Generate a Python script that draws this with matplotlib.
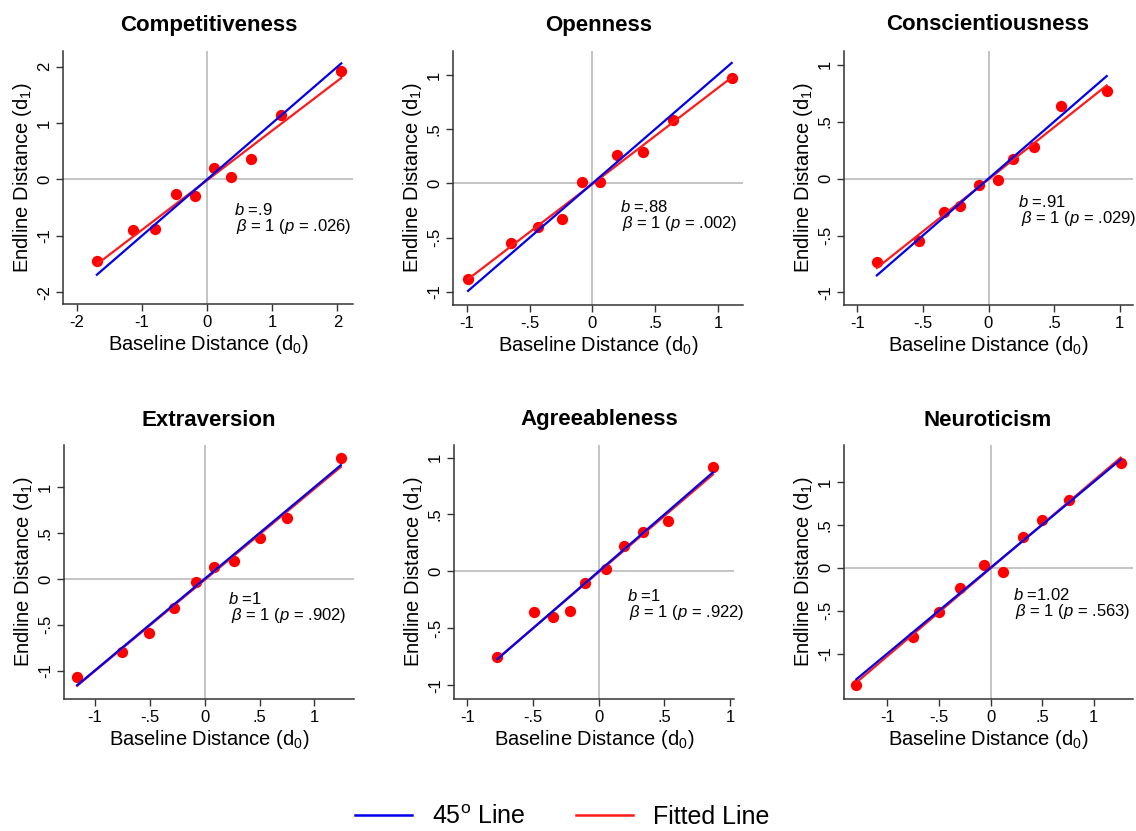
import numpy as np
import matplotlib.pyplot as plt
from matplotlib.lines import Line2D

plt.rcParams['font.family'] = ['Liberation Sans', 'DejaVu Sans']
plt.rcParams['mathtext.fontset'] = 'custom'
plt.rcParams['mathtext.rm'] = 'Liberation Sans'
plt.rcParams['mathtext.it'] = 'Liberation Sans:italic'

# datos (distancia base d0, distancia final d1)
titles = ['Competitiveness', 'Openness', 'Conscientiousness',
          'Extraversion', 'Agreeableness', 'Neuroticism']

comp_x = [-1.69, -1.14, -0.80, -0.47, -0.18, 0.10, 0.37, 0.68, 1.14, 2.06]
comp_y = [-1.44, -0.89, -0.88, -0.26, -0.30, 0.21, 0.05, 0.37, 1.14, 1.92]

open_x = [-0.99, -0.65, -0.43, -0.24, -0.08, 0.06, 0.20, 0.40, 0.64, 1.11]
open_y = [-0.88, -0.55, -0.40, -0.33, 0.01, 0.01, 0.26, 0.29, 0.58, 0.97]

consc_x = [-0.85, -0.53, -0.34, -0.22, -0.07, 0.07, 0.19, 0.35, 0.55, 0.90]
consc_y = [-0.73, -0.55, -0.29, -0.24, -0.06, -0.01, 0.17, 0.28, 0.64, 0.77]

extra_x = [-1.16, -0.75, -0.51, -0.28, -0.08, 0.09, 0.27, 0.50, 0.75, 1.24]
extra_y = [-1.07, -0.80, -0.59, -0.32, -0.03, 0.13, 0.20, 0.45, 0.66, 1.32]

agree_x = [-0.77, -0.49, -0.35, -0.22, -0.10, 0.06, 0.19, 0.34, 0.53, 0.87]
agree_y = [-0.75, -0.36, -0.40, -0.35, -0.10, 0.02, 0.22, 0.35, 0.44, 0.92]

neuro_x = [-1.30, -0.75, -0.50, -0.30, -0.06, 0.12, 0.31, 0.50, 0.76, 1.26]
neuro_y = [-1.37, -0.81, -0.52, -0.24, 0.03, -0.05, 0.36, 0.56, 0.79, 1.22]

b_vals = ['.9', '.88', '.91', '1', '1', '1.02']
p_vals = ['.026', '.002', '.029', '.902', '.922', '.563']

xs = [comp_x, open_x, consc_x, extra_x, agree_x, neuro_x]
ys = [comp_y, open_y, consc_y, extra_y, agree_y, neuro_y]

ticks_big = [-2, -1, 0, 1, 2]
ticks_small = [-1, -0.5, 0, 0.5, 1]

# posiciones en pixeles: izquierda, derecha, arriba, abajo
boxes = [(63, 353, 51, 304), (453, 743, 51, 305), (844, 1133, 51, 305),
         (64, 354, 445, 699), (454, 734, 445, 699), (844, 1133, 445, 699)]
xlims = [(-2.21, 2.24), (-1.11, 1.20), (-1.10, 1.10),
         (-1.28, 1.36), (-1.10, 1.03), (-1.42, 1.38)]
ylims = [(-2.21, 2.28), (-1.12, 1.22), (-1.11, 1.12),
         (-1.31, 1.46), (-1.12, 1.11), (-1.53, 1.43)]
txt_pos = [(0.59, 0.372), (0.575, 0.384), (0.603, 0.406),
           (0.567, 0.393), (0.617, 0.404), (0.585, 0.41)]
title_x = [209, 599, 988, 209, 599, 988]
title_y = [25, 25, 25, 420, 420, 420]

W, H = 1136, 831


def fmt(v):
    if float(v).is_integer():
        return str(int(v))
    return ('%g' % v).replace('0.', '.')


fig = plt.figure(figsize=(W / 100, H / 100), dpi=100)

for i in range(6):
    l, r, t, b = boxes[i]
    ax = fig.add_axes([l / W, 1 - b / H, (r - l) / W, (b - t) / H])
    x = np.array(xs[i])
    y = np.array(ys[i])

    ax.axhline(0, color='#b4b4b4', lw=1.1, zorder=0)
    ax.axvline(0, color='#b4b4b4', lw=1.1, zorder=0)

    ax.scatter(x, y, s=66, color='#ff0000', zorder=2, linewidths=0)
    slope, icpt = np.polyfit(x, y, 1)
    xx = np.array([x.min(), x.max()])
    ax.plot(xx, icpt + slope * xx, color='#ff1a1a', lw=1.6, zorder=3)
    ax.plot(xx, xx, color='#0000ee', lw=1.6, zorder=4)

    ax.set_xlim(xlims[i])
    ax.set_ylim(ylims[i])
    tk = ticks_big if i == 0 else ticks_small
    ax.set_xticks(tk)
    ax.set_xticklabels([fmt(v) for v in tk])
    ax.set_yticks(tk)
    ax.set_yticklabels([fmt(v) for v in tk], rotation=90, va='center')
    ax.tick_params(labelsize=12, length=5, width=1, color='#333333', pad=3)

    for s in ['top', 'right']:
        ax.spines[s].set_visible(False)
    for s in ['left', 'bottom']:
        ax.spines[s].set_color('#333333')
        ax.spines[s].set_linewidth(1.1)

    ax.set_xlabel('Baseline Distance (d$_0$)', fontsize=14.5, labelpad=2)
    ax.set_ylabel('Endline Distance (d$_1$)', fontsize=14.5, labelpad=2)

    tx, ty = txt_pos[i]
    ax.text(tx, ty, '$b$ =' + b_vals[i], transform=ax.transAxes,
            fontsize=12, va='center', ha='left')
    ax.text(tx + 0.008, ty - 0.065, r'$\beta$ = 1 ($p$ = ' + p_vals[i] + ')',
            transform=ax.transAxes, fontsize=12, va='center', ha='left')

    fig.text(title_x[i] / W, 1 - title_y[i] / H, titles[i], fontsize=16,
             fontweight='bold', ha='center', va='center')

handles = [Line2D([], [], color='#0000ee', lw=1.8),
           Line2D([], [], color='#ff1a1a', lw=1.8)]
fig.legend(handles, ['45$^{\\mathrm{o}}$ Line', 'Fitted Line'],
           loc='center', bbox_to_anchor=(0.495, 1 - 817 / H), ncol=2,
           frameon=False, fontsize=18, handlelength=2.3,
           handletextpad=0.8, columnspacing=2.0)

fig.savefig('out.png', dpi=100)
